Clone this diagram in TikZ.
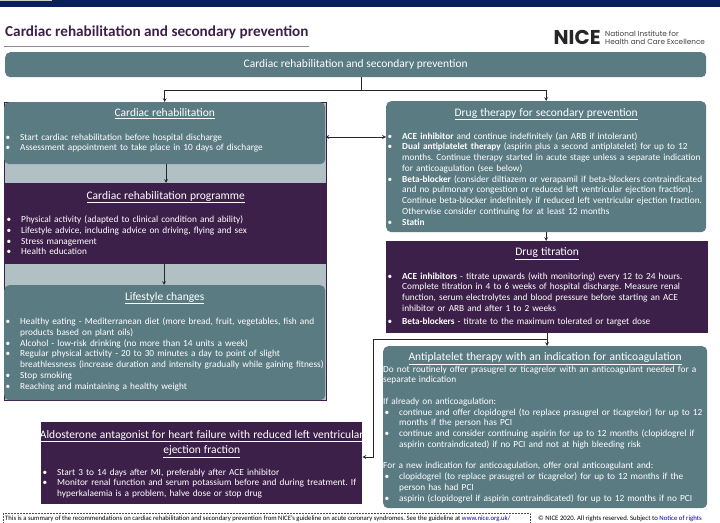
\documentclass[tikz,border=0pt]{standalone}
\usepackage{fontspec}
\setmainfont{Carlito}
\newfontfamily\logofont{Poppins}
\usetikzlibrary{arrows}

\definecolor{niceteal}{HTML}{5B7B83}
\definecolor{nicepurple}{HTML}{3D2049}
\definecolor{nicepale}{HTML}{B0C0C5}
\definecolor{nicenavy}{HTML}{0A1F5C}

% bullet line with a hanging indent
\newcommand{\bul}{\par\hangindent=16pt\hangafter=1\noindent\makebox[16pt][l]{\hspace{1.5pt}\textbullet}}
\newcommand{\plain}{\par\noindent}
\newcommand{\head}[1]{\par\centerline{\fontsize{11.5}{12}\selectfont\underline{#1}}}

\begin{document}
\frenchspacing
\begin{tikzpicture}[
    x=1pt, y=-1pt,
    panel/.style n args={3}{rectangle, anchor=north west, inner sep=0pt, text=white,
        font=\fontsize{9.3}{10.75}\selectfont, text width=#1pt,
        text height=#3pt, text depth=#2pt-#3pt},
    tealbox/.style={fill=niceteal, rounded corners=5pt},
    purplebox/.style={fill=nicepurple},
    arrow/.style={->, >=stealth, line width=0.7pt, color=black!85},
    dblarrow/.style={<->, >=stealth, line width=0.7pt, color=black!85}
]
\clip (0,0) rectangle (720,522);

% Top band and title
\fill[nicenavy] (0,0) rectangle (720,6.5);
\fill[gray!40] (0,0) rectangle (52,1);
\node[anchor=base west, inner sep=0pt, text=nicepurple, font=\fontsize{15.2}{16}\selectfont\bfseries] (title) at (5,36) {Cardiac rehabilitation and secondary prevention};
\draw[color=nicepurple!55, line width=0.9pt] (4,46) -- (309,46);

% Logo
\node[anchor=base west, inner sep=0pt, text=black!85, font=\logofont\fontsize{20}{21}\selectfont\bfseries] (nice) at (553.5,44) {NICE};
\node[anchor=base west, inner sep=0pt, text=black!75, font=\logofont\fontsize{7.3}{8}\selectfont] (niceinst) at (605,36.5) {National Institute for};
\node[anchor=base west, inner sep=0pt, text=black!75, font=\logofont\fontsize{7.3}{8}\selectfont] (nicehealth) at (605,44.5) {Health and Care Excellence};

% Backing of the left column
\fill[nicepale, draw=nicepurple, line width=0.5pt] (4,102) rectangle (326,400);

% Nodes
\node[tealbox, rectangle, anchor=north west, inner sep=0pt, minimum width=701pt, minimum height=25pt, text=white, font=\fontsize{11.5}{12}\selectfont] (top) at (5,52) {Cardiac rehabilitation and secondary prevention};

\node[panel={321}{62}{3.3}, tealbox] (rehab) at (4,102) {%
\head{Cardiac rehabilitation}
\vspace{13pt}
\bul Start cardiac rehabilitation before hospital discharge
\bul Assessment appointment to take place in 10 days of discharge\par};

\node[panel={321}{81}{5.3}, purplebox] (programme) at (5,183) {%
\head{Cardiac rehabilitation programme}
\vspace{11.5pt}
\bul Physical activity (adapted to clinical condition and ability)
\bul Lifestyle advice, including advice on driving, flying and sex
\bul Stress management
\bul Health education\par};

\node[panel={321}{115}{4.3}, tealbox] (lifestyle) at (4,285) {%
\head{Lifestyle changes}
\vspace{12.5pt}
\bul Healthy eating - Mediterranean diet (more bread, fruit, vegetables, fish and\newline products based on plant oils)
\bul Alcohol - low-risk drinking (no more than 14 units a week)
\bul Regular physical activity - 20 to 30 minutes a day to point of slight\newline breathlessness (increase duration and intensity gradually while gaining fitness)
\bul Stop smoking
\bul Reaching and maintaining a healthy weight\par};

\node[panel={321}{82}{5.3}, purplebox] (aldo) at (41,422) {%
\head{Aldosterone antagonist for heart failure with reduced left ventricular}
\vspace{2.2pt}
\head{ejection fraction}
\vspace{11pt}
\bul Start 3 to 14 days after MI, preferably after ACE inhibitor
\bul Monitor renal function and serum potassium before and during treatment. If\newline hyperkalaemia is a problem, halve dose or stop drug\par};

\node[panel={320}{131}{4.3}, tealbox] (drug) at (386,101) {%
\head{Drug therapy for secondary prevention}
\vspace{11pt}
\bul \textbf{ACE inhibitor} and continue indefinitely (an ARB if intolerant)
\bul \textbf{Dual antiplatelet therapy} (aspirin plus a second antiplatelet) for up to 12\newline months. Continue therapy started in acute stage unless a separate indication\newline for anticoagulation (see below)
\bul \textbf{Beta-blocker} (consider diltiazem or verapamil if beta-blockers contraindicated\newline and no pulmonary congestion or reduced left ventricular ejection fraction).\newline Continue beta-blocker indefinitely if reduced left ventricular ejection fraction.\newline Otherwise consider continuing for at least 12 months
\bul \textbf{Statin}\par};

\node[panel={322}{92}{3.8}, purplebox] (titration) at (386,241) {%
\head{Drug titration}
\vspace{11.5pt}
\bul \textbf{ACE inhibitors} - titrate upwards (with monitoring) every 12 to 24 hours.\newline Complete titration in 4 to 6 weeks of hospital discharge. Measure renal\newline function, serum electrolytes and blood pressure before starting an ACE\newline inhibitor or ARB and after 1 to 2 weeks
\vspace{2.6pt}
\bul \textbf{Beta-blockers} - titrate to the maximum tolerated or target dose\par};

\node[panel={324}{162}{3.8}, tealbox] (antiplatelet) at (383,346) {%
\head{Antiplatelet therapy with an indication for anticoagulation}
\vspace{0.5pt}
\plain Do not routinely offer prasugrel or ticagrelor with an anticoagulant needed for a\newline separate indication
\vspace{10.75pt}
\plain If already on anticoagulation:
\bul continue and offer clopidogrel (to replace prasugrel or ticagrelor) for up to 12\newline months if the person has PCI
\bul continue and consider continuing aspirin for up to 12 months (clopidogrel if\newline aspirin contraindicated) if no PCI and not at high bleeding risk
\vspace{10.75pt}
\plain For a new indication for anticoagulation, offer oral anticoagulant and:
\bul clopidogrel (to replace prasugrel or ticagrelor) for up to 12 months if the\newline person has had PCI
\bul aspirin (clopidogrel if aspirin contraindicated) for up to 12 months if no PCI\par};

% Arrows
\coordinate (split) at (361,90);
\coordinate (branch) at (547,339);
\coordinate (bend) at (373,457);
\draw[line width=0.7pt, color=black!85] (top.south -| split) -- (split);
\draw[arrow] (split) -| (rehab.north);
\draw[arrow] (split) -| (drug.north);
\draw[dblarrow] (drug.west |- 0,137) -- (rehab.east |- 0,137);
\draw[arrow] (rehab.south -| 166,0) -- (programme.north -| 166,0);
\draw[arrow] (programme.south -| 164,0) -- (lifestyle.north -| 164,0);
\draw[arrow] (drug.south) -- (titration.north -| drug.south);
\draw[arrow] (titration.south -| branch) -- (antiplatelet.north -| branch);
\draw[arrow] (branch) -| (bend) -- (aldo.east |- bend);

% Footnote
\draw[densely dotted, color=black!70, line width=0.5pt] (3,522) -- (3,513) -- (530,513) -- (530,522);
\node[anchor=base west, inner sep=0pt, font=\fontsize{6.7}{7}\selectfont] (foot) at (5,520) {This is a summary of the recommendations on cardiac rehabilitation and secondary prevention from NICE's guideline on acute coronary syndromes. See the guideline at \textcolor{blue!70!black}{www.nice.org.uk/}};
\node[anchor=base west, inner sep=0pt, font=\fontsize{6.8}{7}\selectfont] (rights) at (538,520.5) {© NICE 2020. All rights reserved. Subject to \textcolor{blue!70!black}{Notice of rights}};
\end{tikzpicture}
\end{document}
